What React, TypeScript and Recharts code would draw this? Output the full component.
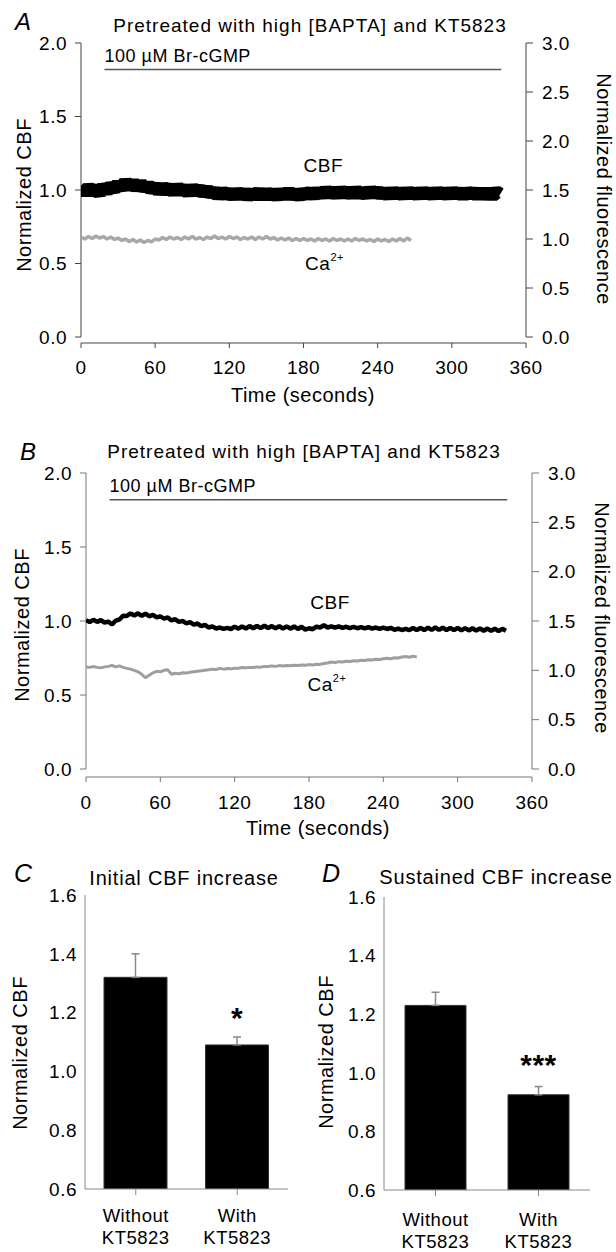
import React from 'react'
import {
  ComposedChart,
  Line,
  XAxis,
  YAxis,
  ReferenceLine,
  ReferenceDot,
  BarChart,
  Bar,
  ErrorBar,
  LabelList
} from 'recharts'

const FONT = '"Liberation Sans", Arial, Helvetica, sans-serif'

const STEP = 3 // seconds between samples in the traces
const TIME_TICKS = [0, 60, 120, 180, 240, 300, 360]
const CBF_TICKS = [0, 0.5, 1, 1.5, 2]
const FLUO_TICKS = [0, 0.5, 1, 1.5, 2, 2.5, 3]
const BAR_TICKS = [0.6, 0.8, 1, 1.2, 1.4, 1.6]

// Br-cGMP application bar
const DRUG_START = 19
const DRUG_END = 340
const DRUG_LEVEL = 1.82
const DRUG_TEXT_LEVEL = 1.91

// panel A: normalized CBF (left axis), one value every 3 s from 0 to 339 s
const cbfA = [
  1.01, 0.985, 1.015, 0.99, 1.005, 0.98, 1.02, 0.995, 1.025, 1.005,
  1.04, 1.015, 1.055, 1.02, 1.05, 1.015, 1.045, 1.01, 1.035, 1.0,
  1.025, 0.99, 1.02, 0.995, 1.015, 0.985, 1.02, 0.99, 1.01, 0.98,
  1.015, 0.985, 1.01, 0.975, 1.005, 0.97, 0.995, 0.96, 0.99, 0.965,
  0.985, 0.955, 0.99, 0.96, 0.985, 0.955, 0.98, 0.96, 0.99, 0.955,
  0.985, 0.96, 0.98, 0.955, 0.985, 0.96, 0.99, 0.96, 0.98, 0.955,
  0.985, 0.965, 0.99, 0.96, 0.995, 0.965, 1.0, 0.97, 0.995, 0.965,
  1.0, 0.97, 0.995, 0.965, 1.0, 0.97, 0.99, 0.965, 1.0, 0.97,
  0.995, 0.965, 0.99, 0.96, 0.995, 0.965, 0.99, 0.96, 0.995, 0.965,
  0.99, 0.96, 0.995, 0.965, 0.99, 0.96, 0.995, 0.965, 0.99, 0.96,
  0.995, 0.965, 0.99, 0.96, 0.99, 0.965, 0.99, 0.96, 0.99, 0.96,
  0.985, 0.965, 0.985, 0.97
]

// panel A: normalized Ca2+ fluorescence (right axis), 0 to 267 s
const caA = [
  1.02, 1.0, 1.025, 1.005, 1.03, 1.01, 1.025, 1.0, 1.02, 0.995,
  1.01, 0.985, 1.0, 0.975, 0.995, 0.97, 0.99, 0.965, 0.985, 0.97,
  1.0, 0.99, 1.015, 0.995, 1.02, 1.0, 1.015, 0.995, 1.02, 1.0,
  1.025, 1.0, 1.015, 0.995, 1.02, 1.005, 1.03, 1.005, 1.02, 1.0,
  1.025, 1.005, 1.02, 0.995, 1.015, 1.0, 1.02, 0.995, 1.02, 1.0,
  1.025, 1.0, 1.015, 0.99, 1.01, 0.99, 1.01, 0.985, 1.005, 0.985,
  1.005, 0.985, 1.0, 0.98, 1.005, 0.985, 1.0, 0.98, 1.005, 0.985,
  1.0, 0.98, 1.0, 0.98, 1.005, 0.985, 1.0, 0.98, 0.995, 0.975,
  1.0, 0.98, 0.995, 0.975, 1.0, 0.98, 1.005, 0.98, 1.01, 0.985
]

// panel B: normalized CBF, 0 to 339 s
const cbfB = [
  1.005, 0.993, 1.008, 0.994, 1.006, 0.99, 0.996, 0.976, 1.003, 1.01,
  1.036, 1.034, 1.051, 1.037, 1.052, 1.034, 1.05, 1.032, 1.041, 1.024,
  1.031, 1.016, 1.024, 1.004, 1.012, 0.994, 1.001, 0.984, 0.992, 0.976,
  0.983, 0.966, 0.974, 0.956, 0.964, 0.949, 0.956, 0.947, 0.954, 0.946,
  0.962, 0.948, 0.964, 0.949, 0.966, 0.951, 0.967, 0.952, 0.968, 0.952,
  0.966, 0.95, 0.965, 0.949, 0.964, 0.948, 0.963, 0.946, 0.961, 0.942,
  0.951, 0.944, 0.962, 0.956, 0.971, 0.956, 0.964, 0.955, 0.963, 0.954,
  0.961, 0.952, 0.96, 0.951, 0.959, 0.95, 0.958, 0.949, 0.956, 0.947,
  0.955, 0.946, 0.954, 0.94, 0.949, 0.939, 0.947, 0.938, 0.953, 0.938,
  0.954, 0.939, 0.955, 0.94, 0.956, 0.94, 0.955, 0.939, 0.954, 0.938,
  0.953, 0.937, 0.952, 0.936, 0.951, 0.935, 0.95, 0.934, 0.949, 0.933,
  0.948, 0.932, 0.947, 0.934
]

// panel B: normalized Ca2+ fluorescence, 0 to 267 s
const caB = [
  1.035, 1.03, 1.038, 1.03, 1.025, 1.035, 1.04, 1.05, 1.035, 1.045,
  1.03, 1.02, 1.012, 1.0, 0.985, 0.96, 0.925, 0.95, 0.975, 0.99,
  0.985, 1.0, 1.005, 0.96, 0.97, 0.965, 0.975, 0.972, 0.98, 0.985,
  0.99, 0.995, 1.0, 1.005, 1.012, 1.008, 1.02, 1.012, 1.018, 1.015,
  1.022, 1.02, 1.028, 1.025, 1.03, 1.028, 1.035, 1.032, 1.04, 1.038,
  1.045, 1.04, 1.048, 1.045, 1.05, 1.047, 1.052, 1.05, 1.055, 1.052,
  1.058, 1.055, 1.062, 1.06, 1.07, 1.075, 1.085, 1.08, 1.088, 1.085,
  1.092, 1.09, 1.097, 1.095, 1.102, 1.1, 1.108, 1.105, 1.112, 1.11,
  1.118, 1.122, 1.118, 1.128, 1.125, 1.135, 1.14, 1.132, 1.142, 1.135
]

// panels C and D
const GROUPS = ['Without\nKT5823', 'With\nKT5823']
const initialMean = [1.32, 1.09]
const initialSem = [0.08, 0.027]
const initialSig = ['', '*']
const sustainedMean = [1.23, 0.925]
const sustainedSem = [0.045, 0.028]
const sustainedSig = ['', '***']

const toSeries = (vals: number[]) => vals.map((v, i) => ({ t: i * STEP, v }))

const barRows = (mean: number[], sem: number[], sig: string[]) =>
  GROUPS.map((g, i) => ({ group: g, mean: mean[i], err: [0, sem[i]], sig: sig[i] }))

// plain svg text helper for titles / axis titles
const Txt = ({ x, y, size = 20, anchor = 'middle', rotate = 0, italic = false, spacing, children }: any) => (
  <text
    x={x}
    y={y}
    fontSize={size}
    fill="#000"
    textAnchor={anchor}
    fontStyle={italic ? 'italic' : 'normal'}
    dominantBaseline={rotate ? 'central' : undefined}
    transform={rotate ? `rotate(${rotate}, ${x}, ${y})` : undefined}
    style={spacing != null ? { letterSpacing: spacing } : undefined}
  >
    {children}
  </text>
)

const textAt = (label: React.ReactNode, size: number, anchor = 'middle') => (p: any) => (
  <text x={p.cx} y={p.cy} fontSize={size} fill="#000" textAnchor={anchor} dominantBaseline="central">
    {label}
  </text>
)

const CaText = (
  <>
    Ca<tspan dy={-7} fontSize={11}>2+</tspan>
  </>
)

interface TraceCfg {
  letter: string
  top: number
  margin: { top: number; right: number; bottom: number; left: number }
  xAxisHeight: number
  gap: number
  xTickMargin: number
  axis: string
  caColor: string
  cbfWidth: number
  caWidth: number
  letterPos: [number, number]
  titlePos: [number, number]
  leftLabel: [number, number]
  rightLabel: [number, number]
  timeLabel: [number, number]
  cbfText: [number, number]
  caText: [number, number]
  cbf: number[]
  ca: number[]
}

const panelA: TraceCfg = {
  letter: 'A',
  top: 0,
  margin: { top: 43, right: 30, bottom: 7, left: 21 },
  xAxisHeight: 70,
  gap: 6,
  xTickMargin: 13,
  axis: '#444',
  caColor: '#a8a8a8',
  cbfWidth: 14,
  caWidth: 3.5,
  letterPos: [15, 30],
  titlePos: [310, 32],
  leftLabel: [24, 195],
  rightLabel: [604, 189],
  timeLabel: [303, 395],
  cbfText: [196, 1.17],
  caText: [197, 0.5],
  cbf: cbfA,
  ca: caA
}

const panelB: TraceCfg = {
  letter: 'B',
  top: 420,
  margin: { top: 53, right: 24, bottom: 7, left: 26 },
  xAxisHeight: 56,
  gap: 8,
  xTickMargin: 14,
  axis: '#777',
  caColor: '#9e9e9e',
  cbfWidth: 4.5,
  caWidth: 3,
  letterPos: [20, 40],
  titlePos: [304, 38],
  leftLabel: [22, 205],
  rightLabel: [602, 198],
  timeLabel: [318, 408],
  cbfText: [197, 1.124],
  caText: [194.5, 0.57],
  cbf: cbfB,
  ca: caB
}

function TracePanel({ cfg }: { cfg: TraceCfg }) {
  const tick = { fontSize: 19, fill: '#000' }
  return (
    <div style={{ position: 'absolute', left: 0, top: cfg.top }}>
      <ComposedChart width={616} height={420} margin={cfg.margin}>
        <XAxis
          type="number"
          dataKey="t"
          domain={[0, 360]}
          ticks={TIME_TICKS}
          interval={0}
          allowDataOverflow
          height={cfg.xAxisHeight}
          stroke={cfg.axis}
          tick={tick}
          tickSize={5}
          tickMargin={cfg.xTickMargin}
        />
        <YAxis
          yAxisId="cbf"
          domain={[0, 2]}
          ticks={CBF_TICKS}
          padding={{ top: 0, bottom: cfg.gap }}
          allowDataOverflow
          axisLine={false}
          width={60}
          stroke={cfg.axis}
          tick={tick}
          tickSize={6}
          tickMargin={8}
          tickFormatter={(v: number) => v.toFixed(1)}
        />
        <YAxis
          yAxisId="fluo"
          orientation="right"
          domain={[0, 3]}
          ticks={FLUO_TICKS}
          padding={{ top: 0, bottom: cfg.gap }}
          allowDataOverflow
          axisLine={false}
          width={60}
          stroke={cfg.axis}
          tick={tick}
          tickSize={7}
          tickMargin={9}
          tickFormatter={(v: number) => v.toFixed(1)}
        />
        {/* y axis lines stop at zero, the time axis sits a little below */}
        <ReferenceLine yAxisId="cbf" segment={[{ x: 0, y: 0 }, { x: 0, y: 2 }]} stroke={cfg.axis} />
        <ReferenceLine yAxisId="fluo" segment={[{ x: 360, y: 0 }, { x: 360, y: 3 }]} stroke={cfg.axis} />
        <ReferenceLine
          yAxisId="cbf"
          segment={[{ x: DRUG_START, y: DRUG_LEVEL }, { x: DRUG_END, y: DRUG_LEVEL }]}
          stroke="#555"
          strokeWidth={1.5}
        />
        <ReferenceDot
          yAxisId="cbf"
          x={DRUG_START}
          y={DRUG_TEXT_LEVEL}
          r={0}
          shape={textAt('100 µM Br-cGMP', 18, 'start')}
        />
        <Line
          yAxisId="fluo"
          data={toSeries(cfg.ca)}
          dataKey="v"
          type="linear"
          stroke={cfg.caColor}
          strokeWidth={cfg.caWidth}
          strokeLinejoin="bevel"
          dot={false}
          isAnimationActive={false}
        />
        <Line
          yAxisId="cbf"
          data={toSeries(cfg.cbf)}
          dataKey="v"
          type="linear"
          stroke="#000"
          strokeWidth={cfg.cbfWidth}
          strokeLinejoin="bevel"
          dot={false}
          isAnimationActive={false}
        />
        <ReferenceDot yAxisId="cbf" x={cfg.cbfText[0]} y={cfg.cbfText[1]} r={0} shape={textAt('CBF', 19)} />
        <ReferenceDot yAxisId="cbf" x={cfg.caText[0]} y={cfg.caText[1]} r={0} shape={textAt(CaText, 19)} />
        <Txt x={cfg.letterPos[0]} y={cfg.letterPos[1]} size={24} anchor="start" italic>
          {cfg.letter}
        </Txt>
        <Txt x={cfg.titlePos[0]} y={cfg.titlePos[1]} size={19} spacing="1px">
          Pretreated with high [BAPTA] and KT5823
        </Txt>
        <Txt x={cfg.leftLabel[0]} y={cfg.leftLabel[1]} rotate={-90}>
          Normalized CBF
        </Txt>
        <Txt x={cfg.rightLabel[0]} y={cfg.rightLabel[1]} rotate={90}>
          Normalized fluorescence
        </Txt>
        <Txt x={cfg.timeLabel[0]} y={cfg.timeLabel[1] + 7}>
          Time (seconds)
        </Txt>
      </ComposedChart>
    </div>
  )
}

const GroupTick = ({ x, y, payload, dy1 }: any) => {
  const lines = String(payload.value).split('\n')
  return (
    <text x={x} y={y} textAnchor="middle" fontSize={18.5} fill="#000">
      {lines.map((s, i) => (
        <tspan key={i} x={x} dy={i === 0 ? dy1 : 22}>
          {s}
        </tspan>
      ))}
    </text>
  )
}

const Stars = ({ x, y, width, value, lift }: any) => {
  if (!value) return null
  const size = 30
  // baseline placed so the asterisk glyph centre sits `lift` px above the bar top
  return (
    <text x={x + width / 2} y={y - lift + size * 0.58} textAnchor="middle" fontSize={size} fontWeight="bold" fill="#000">
      {value}
    </text>
  )
}

interface BarCfg {
  letter: string
  title: string
  left: number
  margin: { top: number; right: number; bottom: number; left: number }
  barSize: number
  catDy: number
  starLift: number
  letterPos: [number, number]
  titlePos: [number, number]
  yLabel: [number, number]
  rows: any[]
}

const panelC: BarCfg = {
  letter: 'C',
  title: 'Initial CBF increase',
  left: 0,
  margin: { top: 55, right: 20, bottom: 8, left: 25 },
  barSize: 63,
  catDy: 25,
  starLift: 34,
  letterPos: [14, 42],
  titlePos: [184, 45],
  yLabel: [20, 213],
  rows: barRows(initialMean, initialSem, initialSig)
}

const panelD: BarCfg = {
  letter: 'D',
  title: 'Sustained CBF increase',
  left: 308,
  margin: { top: 57, right: 26, bottom: 7, left: 16 },
  barSize: 61,
  catDy: 28,
  starLift: 37,
  letterPos: [14, 42],
  titlePos: [188, 44],
  yLabel: [18, 212],
  rows: barRows(sustainedMean, sustainedSem, sustainedSig)
}

function BarPanel({ cfg }: { cfg: BarCfg }) {
  return (
    <div style={{ position: 'absolute', left: cfg.left, top: 840 }}>
      <BarChart width={308} height={412} data={cfg.rows} margin={cfg.margin} barSize={cfg.barSize}>
        <XAxis
          dataKey="group"
          interval={0}
          height={55}
          stroke="#888"
          tickSize={6}
          tick={<GroupTick dy1={cfg.catDy} />}
        />
        <YAxis
          domain={[0.6, 1.6]}
          ticks={BAR_TICKS}
          allowDataOverflow
          width={60}
          stroke="#888"
          tickLine={false}
          tickSize={0}
          tickMargin={8}
          tick={{ fontSize: 19, fill: '#000' }}
          tickFormatter={(v: number) => v.toFixed(1)}
        />
        <Bar dataKey="mean" fill="#000" stroke="#333" isAnimationActive={false}>
          <ErrorBar dataKey="err" direction="y" width={4} stroke="#888" strokeWidth={1.5} isAnimationActive={false} />
          <LabelList dataKey="sig" content={<Stars lift={cfg.starLift} />} />
        </Bar>
        <Txt x={cfg.letterPos[0]} y={cfg.letterPos[1]} size={25} anchor="start" italic>
          {cfg.letter}
        </Txt>
        <Txt x={cfg.titlePos[0]} y={cfg.titlePos[1]} size={20} spacing="0.8px">
          {cfg.title}
        </Txt>
        <Txt x={cfg.yLabel[0]} y={cfg.yLabel[1]} rotate={-90}>
          Normalized CBF
        </Txt>
      </BarChart>
    </div>
  )
}

export default function App() {
  return (
    <div
      style={{
        position: 'absolute',
        left: 0,
        top: 0,
        width: 616,
        height: 1252,
        background: '#fff',
        fontFamily: FONT,
        letterSpacing: '0.5px'
      }}
    >
      <TracePanel cfg={panelA} />
      <TracePanel cfg={panelB} />
      <BarPanel cfg={panelC} />
      <BarPanel cfg={panelD} />
    </div>
  )
}
